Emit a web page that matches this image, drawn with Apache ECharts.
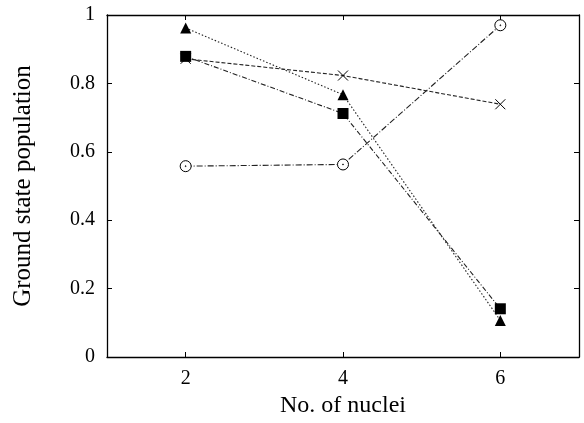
<!DOCTYPE html>
<html>
<head>
<meta charset="utf-8">
<script src="https://cdn.jsdelivr.net/npm/echarts@6/dist/echarts.min.js"></script>
<style>html,body{margin:0;padding:0;background:#fff;}#c{width:584px;height:423px;}</style>
</head>
<body>
<div id="c"></div>
<script>
var nuclei = [2, 4, 6];
var triangleSeries = [0.962, 0.767, 0.107];
var squareSeries = [0.879, 0.712, 0.141];
var crossSeries = [0.872, 0.823, 0.739];
var circleSeries = [0.558, 0.563, 0.970];
var xTicks = [2, 4, 6];
var yTicks = [0, 0.2, 0.4, 0.6, 0.8, 1];

function pairs(vals) { return nuclei.map(function (x, i) { return [x, vals[i]]; }); }

var font = 'Liberation Serif';
var chart = echarts.init(document.getElementById('c'), null, {renderer: 'canvas'});
function mkSeries(vals, symbol, size, itemStyle, dash) {
  return {
    type: 'line', data: pairs(vals), symbol: symbol, symbolSize: size,
    showAllSymbol: true, animation: false,
    itemStyle: itemStyle,
    lineStyle: {color: '#222', width: 1.1, type: dash},
    emphasis: {disabled: true}
  };
}
chart.setOption({
  animation: false,
  backgroundColor: '#fff',
  grid: {left: 107, right: 5, top: 15, bottom: 65},
  xAxis: [{
    type: 'value', min: 1, max: 7, position: 'bottom',
    name: 'No. of nuclei', nameLocation: 'middle', nameGap: 37,
    nameTextStyle: {fontFamily: font, fontSize: 24, color: '#000'},
    axisLine: {show: true, onZero: false, lineStyle: {color: '#000', width: 1.3}},
    axisTick: {show: true, inside: true, length: 5, customValues: xTicks, lineStyle: {color: '#000'}},
    axisLabel: {fontFamily: font, fontSize: 20, color: '#000', margin: 12, customValues: xTicks},
    splitLine: {show: false}
  }, {
    type: 'value', min: 1, max: 7, position: 'top',
    axisLine: {show: true, onZero: false, lineStyle: {color: '#000', width: 1.3}},
    axisTick: {show: true, inside: true, length: 5, customValues: xTicks, lineStyle: {color: '#000'}},
    axisLabel: {show: false},
    splitLine: {show: false}
  }],
  yAxis: [{
    type: 'value', min: 0, max: 1, interval: 0.2, position: 'left',
    name: 'Ground state population', nameLocation: 'middle', nameGap: 71, nameRotate: 90,
    nameTextStyle: {fontFamily: font, fontSize: 25, color: '#000'},
    axisLine: {show: true, onZero: false, lineStyle: {color: '#000', width: 1.3}},
    axisTick: {show: true, inside: true, length: 5, customValues: yTicks, lineStyle: {color: '#000'}},
    axisLabel: {fontFamily: font, fontSize: 20, color: '#000', margin: 12, customValues: yTicks},
    splitLine: {show: false}
  }, {
    type: 'value', min: 0, max: 1, interval: 0.2, position: 'right',
    axisLine: {show: true, onZero: false, lineStyle: {color: '#000', width: 1.3}},
    axisTick: {show: true, inside: true, length: 5, lineStyle: {color: '#000'}},
    axisLabel: {show: false},
    splitLine: {show: false}
  }],
  series: [
    mkSeries(triangleSeries, 'triangle', 11, {color: '#000'}, [1.5, 2]),
    mkSeries(squareSeries, 'rect', 11, {color: '#000'}, [5, 2, 1, 2]),
    mkSeries(crossSeries, 'path://M0,0L10,10M0,10L10,0', 10, {color: 'transparent', borderColor: '#000', borderWidth: 1}, [4, 2]),
    mkSeries(circleSeries, 'path://M0,5A5,5,0,1,1,10,5A5,5,0,1,1,0,5ZM4.6,5A0.4,0.4,0,1,1,5.4,5A0.4,0.4,0,1,1,4.6,5Z', 11, {color: '#fff', borderColor: '#000', borderWidth: 1}, [6, 2, 1, 2])
  ]
});
</script>
</body>
</html>
